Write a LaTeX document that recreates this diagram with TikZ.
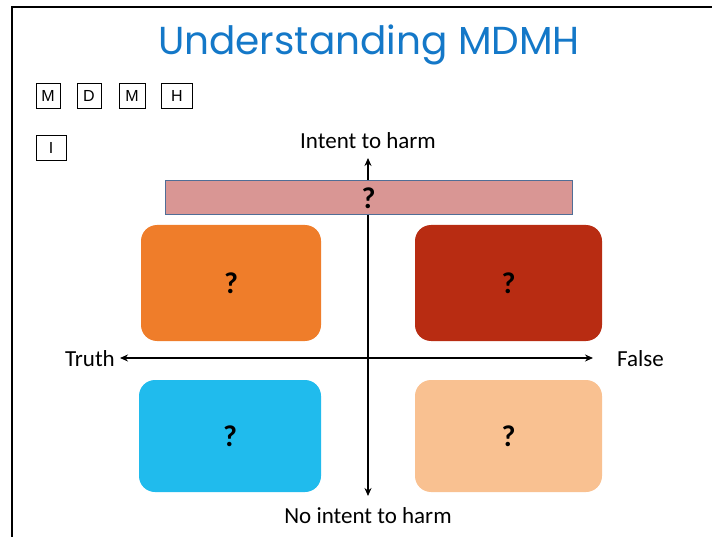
\documentclass[tikz,border=0pt]{standalone}
\usepackage{fontspec}
\setmainfont{Carlito}
\newfontfamily\titlefont{Poppins}
\newfontfamily\arialfont{Liberation Sans}
\usetikzlibrary{arrows.meta}
\definecolor{titleblue}{RGB}{20,120,200}
\definecolor{barpink}{RGB}{217,150,148}
\definecolor{barborder}{RGB}{80,110,150}
\definecolor{qorange}{RGB}{239,125,42}
\definecolor{qred}{RGB}{184,44,18}
\definecolor{qblue}{RGB}{32,187,237}
\definecolor{qpeach}{RGB}{249,193,145}
\tikzset{
  letterbox/.style={draw=black, line width=0.7pt, minimum width=24pt, minimum height=25pt, inner sep=0pt, font=\arialfont\fontsize{16}{16}\selectfont},
  quad/.style={rounded corners=16pt, draw=none, inner sep=0pt, font=\bfseries\fontsize{30}{30}\selectfont},
  axis/.style={line width=1.6pt, {Stealth[length=8pt,width=7pt]}-{Stealth[length=8pt,width=7pt]}},
  lbl/.style={font=\fontsize{23}{23}\selectfont, inner sep=0pt}
}
\begin{document}
\begin{tikzpicture}[x=1pt,y=-1pt]
\useasboundingbox (0,0) rectangle (712,537);
% frame
\draw[line width=2.2pt] (12,537) -- (12,7) -- (712,7);
% title
\node[font=\titlefont\fontsize{39}{39}\selectfont, text=titleblue] (title) at (369,45) {Understanding MDMH};
% letter boxes
\node[letterbox] (bm1) at (48,96) {M};
\node[letterbox] (bd) at (89,96) {D};
\node[letterbox, minimum width=26pt] (bm2) at (132,96) {M};
\node[letterbox, minimum width=31pt] (bh) at (177,96) {H};
\node[letterbox, minimum width=30pt] (bi) at (51,148) {I};
% quadrant boxes
\node[quad, fill=qorange, minimum width=180pt, minimum height=116pt] (q1) at (231,283) {?};
\node[quad, fill=qred, minimum width=187pt, minimum height=116pt] (q2) at (508.5,283) {?};
\node[quad, fill=qblue, minimum width=182pt, minimum height=112pt] (q3) at (230,436) {?};
\node[quad, fill=qpeach, minimum width=187pt, minimum height=112pt] (q4) at (508.5,436) {?};
% labels
\node[lbl] (top) at (368,141) {Intent to harm};
\node[lbl] (bot) at (368,516) {No intent to harm};
\node[lbl, anchor=east] (left) at (115,359) {Truth};
\node[lbl, anchor=west] (right) at (617,359) {False};
% axes
\coordinate (vt) at (368,158);
\coordinate (vb) at (368,496);
\coordinate (hl) at (120,358);
\coordinate (hr) at (593,358);
\draw[axis] (vb) -- (vt);
\draw[axis] (hl) -- (hr);
% pink bar
\node[draw=barborder, line width=1pt, fill=barpink, minimum width=407pt, minimum height=34pt, inner sep=0pt, font=\bfseries\fontsize{30}{30}\selectfont] (bar) at (368.5,198) {?};
\end{tikzpicture}
\end{document}
